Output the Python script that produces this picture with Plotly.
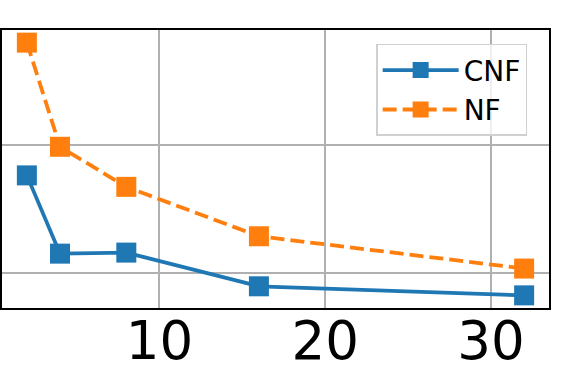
import plotly.graph_objects as go

# batch sizes on the x axis
sizes = [2, 4, 8, 16, 32]

# series values (y tick labels are cropped in the source)
cnf_vals = [1.765, 1.152, 1.160, 0.896, 0.825]
nf_vals = [2.805, 1.989, 1.675, 1.288, 1.035]

x_ticks = [10, 20, 30]
y_ticks = [1, 2]

blue = '#1f77b4'
orange = '#ff7f0e'

fig = go.Figure()
fig.add_trace(go.Scatter(x=sizes, y=cnf_vals, name='CNF', mode='lines+markers',
                         line=dict(color=blue, width=3.8),
                         marker=dict(symbol='square', size=20, color=blue)))
fig.add_trace(go.Scatter(x=sizes, y=nf_vals, name='NF', mode='lines+markers',
                         line=dict(color=orange, width=3.8, dash='14px,6px'),
                         marker=dict(symbol='square', size=20, color=orange)))

axis_common = dict(showline=True, linecolor='black', linewidth=1.5, mirror=True,
                   showgrid=True, gridcolor='#b0b0b0', gridwidth=1.5,
                   zeroline=False, ticks='', automargin=False)

fig.update_xaxes(range=[0.5, 33.5], tickvals=x_ticks, ticklabelstandoff=-14,
                 tickfont=dict(family='DejaVu Sans', size=53, color='black'),
                 **axis_common)
fig.update_yaxes(range=[0.726, 2.904], tickvals=y_ticks, showticklabels=False,
                 **axis_common)

fig.update_layout(
    width=580, height=378,
    margin=dict(l=2, r=31, t=30, b=70, autoexpand=False),
    plot_bgcolor='white', paper_bgcolor='white',
    font=dict(family='DejaVu Sans', color='black'),
    legend=dict(x=0.684, y=0.95, xanchor='left', yanchor='top',
                bgcolor='rgba(255,255,255,0.8)', bordercolor='#d0d0d0', borderwidth=1.5,
                font=dict(size=28), itemwidth=76),
    showlegend=True,
)

# page body has a default 8px margin; drop it so the figure sits at the corner
fig.write_html("out.html", config={'displayModeBar': False},
               post_script="document.body.style.margin='0';")
